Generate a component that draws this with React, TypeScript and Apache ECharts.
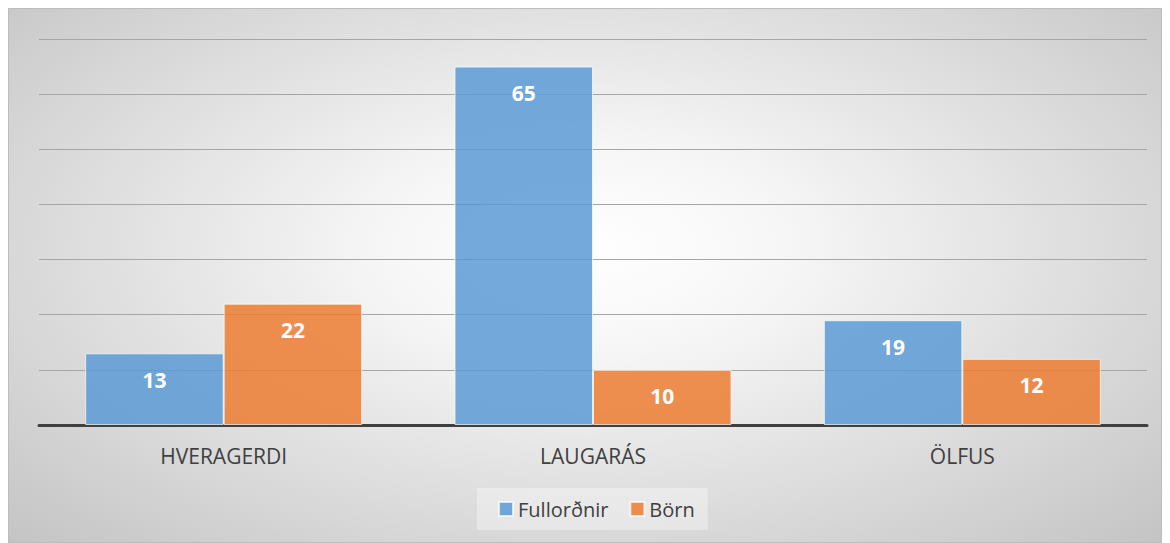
import React, { useEffect, useRef } from "react";
import * as echarts from "echarts";

const categories = ["HVERAGERDI", "LAUGARÁS", "ÖLFUS"];
const adults = [13, 65, 19];
const children = [22, 10, 12];
const seriesNames = ["Fullorðnir", "Börn"];

export default function App() {
  const ref = useRef<HTMLDivElement>(null);
  useEffect(() => {
    if (!ref.current) return;
    const chart = echarts.init(ref.current, null, { renderer: "svg" });
    const font = "'Open Sans', 'Noto Sans', sans-serif";
    const label = {
      show: true,
      position: "insideTop",
      distance: 16,
      color: "#ffffff",
      fontWeight: "bold",
      fontSize: 21,
      fontFamily: font,
    };
    chart.setOption({
      animation: false,
      backgroundColor: "transparent",
      grid: { left: 30, right: 14, top: 30, bottom: 117 },
      xAxis: {
        type: "category",
        data: categories,
        axisLine: { lineStyle: { color: "#404040", width: 3 } },
        axisTick: { show: false },
        axisLabel: {
          color: "#404040",
          fontSize: 21,
          fontFamily: font,
          margin: 20,
        },
      },
      yAxis: {
        type: "value",
        min: 0,
        max: 70,
        interval: 10,
        axisLabel: { show: false },
        axisLine: { show: false },
        axisTick: { show: false },
        splitLine: { lineStyle: { color: "#a6a6a6", width: 1 } },
      },
      legend: {
        data: seriesNames,
        left: 468,
        top: 479,
        padding: [11, 13, 11, 21],
        backgroundColor: "rgba(255,255,255,0.35)",
        itemWidth: 14,
        itemHeight: 14,
        itemGap: 21,
        icon: "rect",
        textStyle: { color: "#404040", fontSize: 20, fontFamily: font },
      },
      series: [
        {
          name: seriesNames[0],
          type: "bar",
          data: adults,
          barGap: "0%",
          barCategoryGap: "25%",
          itemStyle: {
            color: "rgba(91,155,213,0.85)",
            borderColor: "rgba(255,255,255,0.7)",
            borderWidth: 1,
          },
          label,
        },
        {
          name: seriesNames[1],
          type: "bar",
          data: children,
          itemStyle: {
            color: "rgba(237,125,49,0.85)",
            borderColor: "rgba(255,255,255,0.7)",
            borderWidth: 1,
          },
          label,
        },
      ],
    });
    return () => chart.dispose();
  }, []);
  return (
    <div
      ref={ref}
      style={{
        width: 1154,
        height: 535,
        boxSizing: "border-box",
        border: "1px solid #bdbdbd",
        background:
          "radial-gradient(ellipse farthest-corner at 50% 45%, #ffffff 0%, #f6f6f6 25%, #c4c4c4 100%)",
      }}
    />
  );
}
